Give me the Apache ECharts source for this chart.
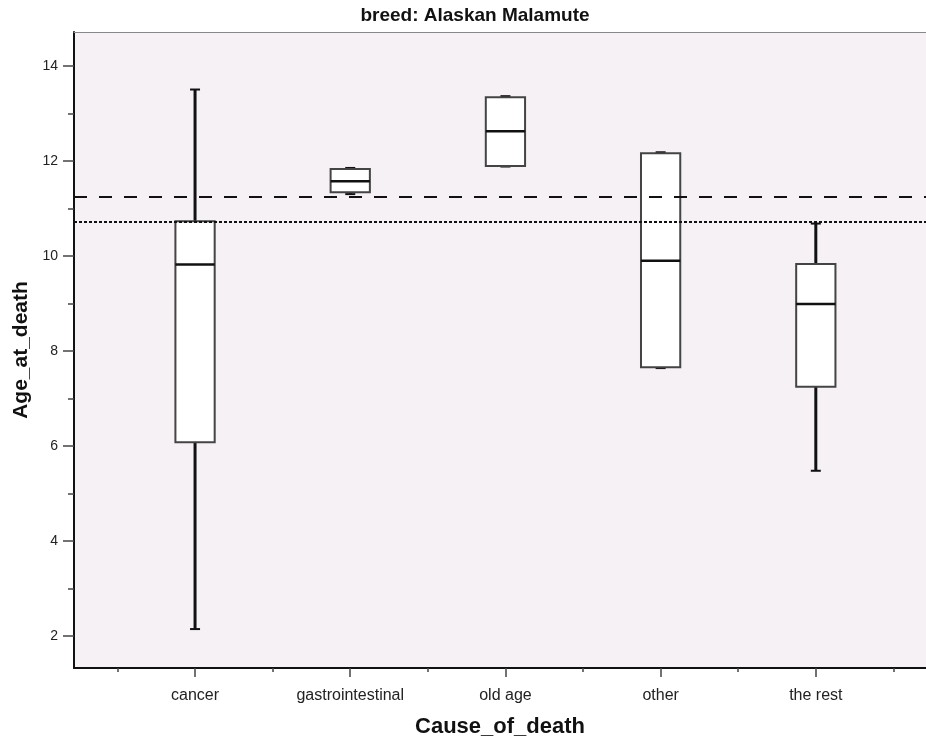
<!DOCTYPE html>
<html>
<head>
<meta charset="utf-8">
<script src="https://cdn.jsdelivr.net/npm/echarts@6/dist/echarts.min.js"></script>
<style>
  html, body { margin: 0; padding: 0; background: #fff; overflow: hidden; }
  #chart { width: 926px; height: 743px; }
</style>
</head>
<body>
<div id="chart"></div>
<script>
// categories on the x axis (placed at 1..5)
const categories = ['cancer', 'gastrointestinal', 'old age', 'other', 'the rest'];
const catPos = [1, 2, 3, 4, 5];

// box plot statistics
const mins    = [2.15, 11.30, 11.88, 7.64, 5.48];
const q1s     = [6.08, 11.34, 11.89, 7.66, 7.25];
const medians = [9.82, 11.57, 12.62, 9.90, 8.99];
const q3s     = [10.73, 11.83, 13.34, 12.16, 9.83];
const maxs    = [13.50, 11.85, 13.36, 12.18, 10.68];

// reference lines
const dashedLine = 11.24;
const dottedLine = 10.71;

// tick values
const yMajorTicks = [2, 4, 6, 8, 10, 12, 14];
const yMinorTicks = [3, 5, 7, 9, 11, 13];
const xMinorTicks = [0.5, 1.5, 2.5, 3.5, 4.5, 5.5];

const boxData = catPos.map((x, i) => [x, mins[i], q1s[i], medians[i], q3s[i], maxs[i]]);

const BOX_W = 0.253;  // in x units
const CAP_HALF = 5;   // px

const chart = echarts.init(document.getElementById('chart'));

const renderBox = (params, api) => {
  const x = api.value(0);
  const lo = api.coord([x, api.value(1)]);
  const q1 = api.coord([x, api.value(2)]);
  const md = api.coord([x, api.value(3)]);
  const q3 = api.coord([x, api.value(4)]);
  const hi = api.coord([x, api.value(5)]);
  const half = api.size([BOX_W, 0])[0] / 2;
  const cx = md[0];
  const black = '#111';
  return {
    type: 'group',
    children: [
      { type: 'line', shape: { x1: cx, y1: q3[1], x2: cx, y2: hi[1] }, style: { stroke: black, lineWidth: 3 } },
      { type: 'line', shape: { x1: cx, y1: q1[1], x2: cx, y2: lo[1] }, style: { stroke: black, lineWidth: 3 } },
      { type: 'line', shape: { x1: cx - CAP_HALF, y1: hi[1], x2: cx + CAP_HALF, y2: hi[1] }, style: { stroke: black, lineWidth: 2 } },
      { type: 'line', shape: { x1: cx - CAP_HALF, y1: lo[1], x2: cx + CAP_HALF, y2: lo[1] }, style: { stroke: black, lineWidth: 2 } },
      { type: 'rect', shape: { x: cx - half, y: q3[1], width: half * 2, height: q1[1] - q3[1] },
        style: { fill: '#fff', stroke: '#444', lineWidth: 2 } },
      { type: 'line', shape: { x1: cx - half, y1: md[1], x2: cx + half, y2: md[1] }, style: { stroke: black, lineWidth: 2.5 } }
    ]
  };
};

const font = 'Liberation Sans, Arial, sans-serif';

chart.setOption({
  animation: false,
  title: {
    text: 'breed: Alaskan Malamute',
    left: 470,
    textAlign: 'center',
    top: 1,
    textStyle: { fontFamily: font, fontSize: 19, fontWeight: 'bold', color: '#111' }
  },
  grid: {
    left: 74, right: 0, top: 32, height: 645,
    show: true, backgroundColor: '#f6f1f5', borderWidth: 0
  },
  xAxis: [
    {
      type: 'value', min: 0.22, max: 5.71, position: 'bottom',
      name: 'Cause_of_death', nameLocation: 'middle', nameGap: 48,
      nameTextStyle: { fontFamily: font, fontSize: 22, fontWeight: 'bold', color: '#111' },
      axisLine: { show: true, lineStyle: { color: '#111', width: 2 } },
      axisTick: { show: true, customValues: catPos, length: 9, lineStyle: { color: '#444', width: 1.5 } },
      axisLabel: {
        customValues: catPos, margin: 20,
        formatter: v => categories[Math.round(v) - 1],
        fontFamily: font, fontSize: 16, color: '#222'
      },
      splitLine: { show: false }
    },
    {
      type: 'value', min: 0.22, max: 5.71, position: 'bottom',
      axisLine: { show: false },
      axisTick: { show: true, customValues: xMinorTicks, length: 4, lineStyle: { color: '#444', width: 1.5 } },
      axisLabel: { show: false },
      splitLine: { show: false }
    },
    {
      type: 'value', min: 0.22, max: 5.71, position: 'top',
      axisLine: { show: true, lineStyle: { color: '#888', width: 1 } },
      axisTick: { show: false }, axisLabel: { show: false }, splitLine: { show: false }
    }
  ],
  yAxis: [
    {
      type: 'value', min: 1.331, max: 14.71,
      name: 'Age_at_death', nameLocation: 'middle', nameGap: 34,
      nameTextStyle: { fontFamily: font, fontSize: 21, fontWeight: 'bold', color: '#111' },
      axisLine: { show: true, lineStyle: { color: '#111', width: 2 } },
      axisTick: { show: true, customValues: yMajorTicks, length: 11, lineStyle: { color: '#444', width: 1.5 } },
      axisLabel: { customValues: yMajorTicks, margin: 16, fontFamily: font, fontSize: 14, color: '#222' },
      splitLine: { show: false }
    },
    {
      type: 'value', min: 1.331, max: 14.71, position: 'left',
      axisLine: { show: false },
      axisTick: { show: true, customValues: yMinorTicks, length: 6, lineStyle: { color: '#444', width: 1.5 } },
      axisLabel: { show: false },
      splitLine: { show: false }
    }
  ],
  series: [
    {
      type: 'line',
      data: [],
      markLine: {
        silent: true,
        symbol: 'none',
        label: { show: false },
        data: [
          { yAxis: dashedLine, lineStyle: { type: [13, 12], width: 2, color: '#111' } },
          { yAxis: dottedLine, lineStyle: { type: [3, 2], width: 2, color: '#111' } }
        ]
      }
    },
    {
      type: 'custom',
      renderItem: renderBox,
      encode: { x: 0, y: [1, 2, 3, 4, 5] },
      data: boxData,
      z: 3
    }
  ]
});
</script>
</body>
</html>
